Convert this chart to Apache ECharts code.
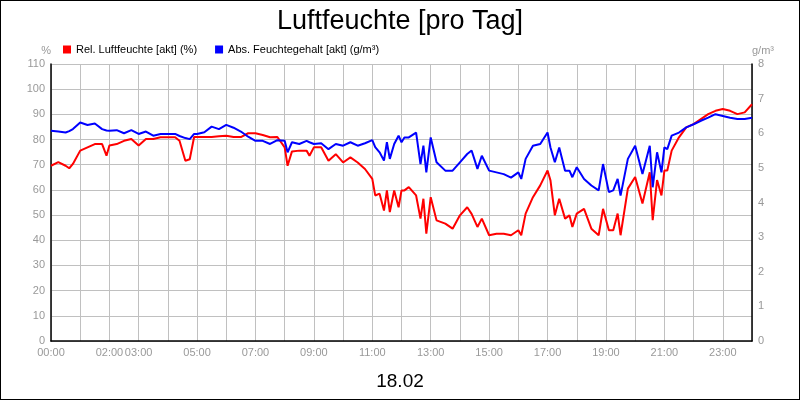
<!DOCTYPE html>
<html><head><meta charset="utf-8">
<script src="https://cdn.jsdelivr.net/npm/echarts@6/dist/echarts.min.js"></script>
<style>html,body{margin:0;padding:0;background:#fff}#c{width:798px;height:398px;border:1px solid #000}</style>
</head><body><div id="c"></div>
<script>
const hours = [0,0.25,0.5,0.625,0.75,1,1.25,1.5,1.75,1.9,2,2.25,2.5,2.75,3,3.25,3.5,3.75,4,4.25,4.4,4.6,4.75,4.9,5,5.25,5.5,5.75,6,6.25,6.5,6.75,7,7.25,7.5,7.75,8,8.1,8.25,8.5,8.75,8.85,9,9.25,9.5,9.75,10,10.25,10.5,10.75,11,11.1,11.25,11.4,11.5,11.6,11.75,11.9,12,12.1,12.25,12.5,12.65,12.75,12.85,13,13.2,13.5,13.75,14,14.25,14.4,14.6,14.75,15,15.25,15.5,15.75,16,16.1,16.25,16.5,16.75,17,17.1,17.25,17.4,17.6,17.75,17.85,18,18.25,18.5,18.75,18.9,19.1,19.25,19.4,19.5,19.75,20,20.25,20.5,20.6,20.75,20.9,21,21.1,21.25,21.5,21.75,22,22.25,22.5,22.75,23,23.25,23.5,23.75,24];
const relHum = [69.6,71,69.6,68.6,70.3,75.6,76.9,78.2,78.2,73.6,77.6,78.2,79.5,80.2,77.6,80.2,80.2,80.9,80.9,80.9,79.5,71.6,72.2,81,81,81,81,81.3,81.5,81,81,82.5,82.5,81.8,80.9,81,76.9,69.6,75.3,75.6,75.6,73.6,76.9,76.9,71.6,74.2,70.9,72.9,70.9,68.3,64.4,57.8,58.5,51.8,59.8,51.2,59.8,53.1,59.8,59.8,61.1,57.8,48.6,56.5,42.6,57.1,47.9,46.6,44.6,49.9,53.1,50.5,45.3,48.6,42,42.6,42.6,42,44,42,50.6,57.1,61.8,67.7,63.8,49.9,56.5,48.6,49.9,45.3,50.6,52.5,44.6,42,52.5,44,44,50.6,42,60.5,65.1,54.6,67,48,63.9,57.8,67.7,67.7,75.6,80.9,84.8,86.1,88.1,90.1,91.4,92.1,91.4,90.1,90.8,94];
const absHum = [6.07,6.05,6.02,6.06,6.12,6.31,6.24,6.28,6.12,6.08,6.07,6.09,6.0,6.09,5.98,6.05,5.93,5.98,5.98,5.98,5.92,5.86,5.83,5.98,5.98,6.03,6.19,6.12,6.24,6.16,6.05,5.9,5.78,5.78,5.69,5.8,5.78,5.45,5.74,5.69,5.78,5.74,5.69,5.71,5.54,5.69,5.64,5.74,5.64,5.71,5.8,5.6,5.45,5.21,5.74,5.26,5.69,5.93,5.74,5.88,5.88,6.02,5.11,5.64,4.87,5.88,5.16,4.92,4.92,5.16,5.4,5.5,4.97,5.35,4.92,4.87,4.82,4.72,4.87,4.68,5.26,5.64,5.69,6.02,5.59,5.16,5.59,4.92,4.92,4.73,5.02,4.68,4.49,4.35,5.11,4.3,4.35,4.68,4.2,5.26,5.64,4.82,5.64,4.44,5.45,4.87,5.59,5.54,5.93,6.02,6.17,6.26,6.36,6.45,6.55,6.5,6.45,6.41,6.41,6.45];
const shownHours = [0,2,3,5,7,9,11,13,15,17,19,21,23];
const leftTicks = [0,110,10], rightTicks = [0,8,1];
const pad = h => (h<10?'0':'')+h+':00';
const gray = '#999';
const chart = echarts.init(document.getElementById('c'));
chart.setOption({
  animation:false,
  title:[{text:'Luftfeuchte [pro Tag]',left:'center',top:2,textStyle:{fontSize:27,fontWeight:'normal',color:'#000',fontFamily:'Arial, Liberation Sans'}},
         {text:'18.02',left:'center',top:366,textStyle:{fontSize:19,fontWeight:'normal',color:'#000',fontFamily:'Arial, Liberation Sans'}}],
  legend:{left:57,top:38,itemWidth:8,itemHeight:8,itemGap:18,icon:'rect',textStyle:{fontSize:11,color:'#000',fontFamily:'Arial, Liberation Sans'},
    data:['Rel. Luftfeuchte [akt] (%)','Abs. Feuchtegehalt [akt] (g/m³)']},
  grid:{left:50,right:47,top:63,bottom:58},
  xAxis:{type:'value',min:0,max:24,interval:1,
    axisLine:{lineStyle:{color:'#000',width:1.5}},axisTick:{show:false},
    splitLine:{lineStyle:{color:'#c0c0c0'}},
    axisLabel:{color:gray,fontSize:11,margin:6,formatter:v=>shownHours.includes(v)?pad(v):''}},
  yAxis:[
    {type:'value',min:leftTicks[0],max:leftTicks[1],interval:leftTicks[2],name:'%',nameGap:8,nameTextStyle:{color:gray,fontSize:11,align:'right'},
     axisLine:{show:true,lineStyle:{color:'#000',width:1.5}},axisTick:{show:false},
     splitLine:{lineStyle:{color:'#c0c0c0'}},axisLabel:{color:gray,fontSize:11,margin:6}},
    {type:'value',min:rightTicks[0],max:rightTicks[1],interval:rightTicks[2],name:'g/m³',nameGap:8,nameTextStyle:{color:gray,fontSize:11,align:'left'},
     axisLine:{show:true,lineStyle:{color:'#000',width:1.5}},axisTick:{show:false},
     splitLine:{show:false},axisLabel:{color:gray,fontSize:11,margin:6}}
  ],
  series:[
    {name:'Rel. Luftfeuchte [akt] (%)',type:'line',yAxisIndex:0,showSymbol:false,color:'#ff0000',lineStyle:{width:2},
     data:hours.map((h,i)=>[h,relHum[i]])},
    {name:'Abs. Feuchtegehalt [akt] (g/m³)',type:'line',yAxisIndex:1,showSymbol:false,color:'#0000ff',lineStyle:{width:2},
     data:hours.map((h,i)=>[h,absHum[i]])}
  ]
});
</script></body></html>
